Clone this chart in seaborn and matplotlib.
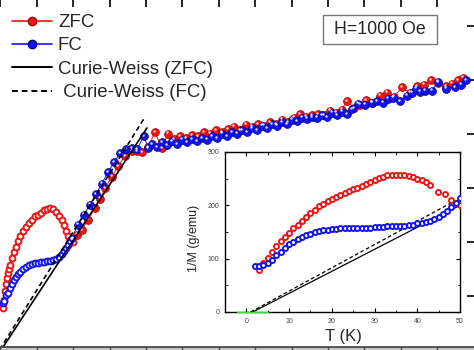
import numpy as np
import pandas as pd
import seaborn as sns
import matplotlib
matplotlib.use('Agg')
import matplotlib.pyplot as plt
from matplotlib.lines import Line2D
from matplotlib.patches import Rectangle
from matplotlib.transforms import offset_copy

# ---- main panel data: 1/M (g/emu) vs T (K) ----
# dense low-temperature part
zfc_low_t = [1.7, 2.4, 3.1, 3.8, 4.5, 5.2, 5.8, 6.5, 7.9, 9.3, 10.6, 12.0, 13.4, 15.5, 17.5, 19.6,
             21.6, 23.7, 25.8, 27.8, 29.9, 31.9, 34.0, 36.1, 38.1, 40.2, 42.2, 43.6, 45.0, 46.4, 47.7, 49.8]
zfc_low_v = [77, 93, 108, 121, 133, 142, 149, 157, 170, 181, 191, 202, 211, 220, 228, 235,
             241, 247, 250, 254, 258, 260, 262, 260, 256, 248, 241, 232, 220, 211, 204, 200]
fc_low_t = [1.7, 2.4, 3.8, 5.2, 6.5, 7.9, 9.3, 10.6, 12.0, 13.4, 15.5, 17.5, 19.6, 21.6, 23.7,
            25.8, 27.8, 29.9, 31.9, 34.0, 36.1, 38.1, 40.2, 42.2, 43.6, 45.0, 46.4, 47.7, 49.1]
fc_low_v = [86, 90, 101, 106, 114, 121, 129, 134, 140, 144, 149, 153, 157, 159, 161,
            161, 163, 163, 164, 164, 166, 168, 172, 177, 183, 189, 194, 202, 207]

# sparser high-temperature part
zfc_t = [52.5, 56.0, 60.1, 64.9, 68.3, 71.8, 76.6, 80.7, 85.5, 90.3, 93.8, 97.2, 101.3, 106.1, 110.9,
         115.0, 119.2, 123.3, 127.4, 131.5, 135.6, 139.8, 143.9, 148.0, 152.1, 156.3, 160.4, 164.5,
         168.6, 172.7, 176.9, 181.0, 185.1, 189.2, 193.3, 197.5, 201.6, 205.7, 209.8, 213.9, 218.1,
         222.2, 226.3, 230.4, 234.5, 238.0, 242.8, 246.9, 251.0, 255.1, 260.6, 265.5, 270.3, 275.8,
         281.3, 286.1, 290.9, 295.7, 300.5, 306.0, 310.1, 314.2, 317.7]
zfc_v = [213, 222, 241, 262, 280, 299, 321, 340, 359, 368, 368, 366, 375, 403, 374,
         400, 390, 396, 392, 398, 396, 403, 400, 407, 403, 409, 413, 407,
         417, 413, 418, 415, 422, 418, 426, 422, 430, 437, 432, 435, 437,
         435, 443, 439, 445, 461, 448, 454, 463, 458, 471, 476, 469, 486,
         476, 488, 491, 499, 495, 488, 493, 499, 504]
fc_t = [53.2, 57.3, 61.5, 65.6, 69.7, 73.8, 78.0, 82.1, 86.2, 90.3, 93.8, 98.6, 101.3, 104.1, 107.5,
        110.9, 114.4, 117.8, 121.2, 124.7, 128.1, 131.5, 135.0, 138.4, 141.8, 145.3, 148.7, 152.1,
        155.6, 159.0, 162.4, 165.9, 169.3, 172.7, 176.2, 179.6, 183.0, 186.5, 189.9, 193.3, 196.8,
        200.2, 203.6, 207.1, 210.5, 213.9, 217.4, 220.8, 224.2, 227.7, 231.1, 234.5, 238.0, 241.4,
        245.5, 250.3, 255.1, 258.6, 262.7, 266.1, 269.6, 274.4, 279.2, 282.6, 285.4, 288.1, 291.6,
        296.4, 300.5, 306.0, 312.2, 316.4, 319.7]
fc_v = [232, 250, 269, 288, 308, 329, 347, 364, 372, 374, 372, 396, 374, 381, 375,
        385, 379, 387, 381, 389, 385, 390, 387, 392, 389, 396, 392, 400,
        396, 403, 400, 407, 403, 411, 407, 415, 411, 418, 415, 422, 418,
        426, 424, 430, 428, 431, 430, 435, 431, 439, 435, 441, 437, 446,
        456, 454, 458, 461, 458, 465, 467, 461, 471, 476, 484, 478, 480,
        480, 497, 484, 486, 491, 499]

# Curie-Weiss fits (end points)
cw_zfc_t, cw_zfc_v = [0.6, 100.6], [0, 411]
cw_fc_t, cw_fc_v = [-0.6, 99.2], [0, 431]

# ---- inset data ----
in_zfc_t = [3, 4, 5, 6, 7, 8, 9, 10, 11, 12, 13, 14, 15, 16, 17, 18, 19, 20, 21, 22, 23, 24, 25,
            26, 27, 28, 29, 30, 31, 32, 33, 34, 35, 36, 37, 38, 39, 40, 41, 42, 43, 44.9, 46.4, 48, 49.2, 50]
in_zfc_v = [78, 91, 102, 113, 123, 133, 141, 149, 157, 164, 171, 179, 186, 192, 198, 203, 208, 211,
            216, 219, 224, 227, 230, 233, 236, 240, 244, 248, 251, 254, 256, 257, 257, 257, 256, 255,
            253, 250, 247, 243, 239, 225, 222, 210, 205, 200]
in_fc_t = [2, 3, 4, 5, 6, 7, 8, 9, 10, 11, 12, 13, 14, 15, 16, 17, 18, 19, 20, 21, 22, 23, 24, 25,
           26, 27, 28, 29, 30, 31, 32, 33, 34, 35, 36, 37, 38, 39, 40, 41, 42, 43, 44, 45, 46, 47, 48, 49, 50]
in_fc_v = [86, 87, 89, 92, 98, 106, 113, 120, 127, 132, 136, 140, 144, 147, 150, 152, 153, 154, 155,
           156, 157, 157, 157, 157, 157, 158, 158, 158, 159, 160, 160, 161, 161, 161, 162, 162, 163,
           164, 166, 167, 169, 171, 174, 178, 183, 190, 197, 205, 213]
in_cw_zfc_t, in_cw_zfc_v = [1.5, 50], [0, 200]
in_cw_fc_t, in_cw_fc_v = [1.0, 48], [0, 205]
in_base_t, in_base_v = [-2.3, 5], [0, 0]

RED, RED_E = '#f01414', '#a00000'
BLUE, BLUE_E = '#1414f0', '#00008c'

sns.set_theme(style='ticks')
plt.rcParams['font.family'] = ['Liberation Sans', 'DejaVu Sans']

fig = plt.figure(figsize=(4.74, 3.5), dpi=100)
W, H = 474, 350

# main axes extends past the figure edges (cropped figure)
ax = fig.add_axes([-14.1 / W, 3 / H, 490.7 / W, 348 / H])
ax.set_xlim(-10, 327)
ax.set_ylim(5, 650)


def balls(t, v, color, edge):
    sns.scatterplot(x=t, y=v, ax=ax, color=color, s=32, edgecolor=edge, linewidth=0.5,
                    zorder=3, legend=False)
    hl = offset_copy(ax.transData, fig=fig, x=-1.0, y=1.0, units='points')
    ax.scatter(t, v, s=3, color='white', alpha=0.85, linewidths=0, transform=hl, zorder=4)


for lt, lv, t, v, c, e in [(zfc_low_t, zfc_low_v, zfc_t, zfc_v, RED, RED_E),
                           (fc_low_t, fc_low_v, fc_t, fc_v, BLUE, BLUE_E)]:
    ax.plot(lt + t, lv + v, color=c, lw=0.7, zorder=2)
    sns.scatterplot(x=lt, y=lv, ax=ax, s=18, facecolor='#ffffff', edgecolor=c, linewidth=1.4,
                    zorder=3, legend=False)
    balls(t, v, c, e)

ax.plot(cw_zfc_t, cw_zfc_v, color='black', lw=1.2, zorder=5)
ax.plot(cw_fc_t, cw_fc_v, color='black', lw=1.2, ls=(0, (3, 2)), zorder=5)

ax.set_xticks(np.arange(0, 301, 25))
ax.set_yticks([100, 200, 300, 400, 500, 600])
ax.tick_params(axis='x', direction='in', top=True, bottom=False, length=6, width=1.2,
               color='black', labeltop=False, labelbottom=False)
ax.tick_params(axis='y', direction='in', right=True, left=False, length=7, width=1.2,
               color='black', labelleft=False, labelright=False)
for s in ax.spines.values():
    s.set_visible(False)
ax.set_xlabel('')
ax.set_ylabel('')

# grey strip at the bottom edge (next panel)
band = fig.add_axes([-14.1 / W, 0, 490.7 / W, 3 / H])
band.set_xlim(-10, 327)
band.set_facecolor('#c4c4c4')
for k, s in band.spines.items():
    s.set_visible(k == 'top')
band.spines['top'].set_color('#444444')
band.set_xticks(np.arange(0, 301, 25))
band.set_yticks([])
band.tick_params(axis='x', direction='in', top=True, bottom=False, length=4, width=1,
                 color='#444444', labelbottom=False)

handles = [
    Line2D([], [], color=RED, marker='o', markersize=6, markeredgecolor=RED_E, lw=1.2),
    Line2D([], [], color=BLUE, marker='o', markersize=6, markeredgecolor=BLUE_E, lw=1.2),
    Line2D([], [], color='black', lw=1.4),
    Line2D([], [], color='black', lw=1.4, ls=(0, (3, 2))),
]
labels = ['ZFC', 'FC', 'Curie-Weiss (ZFC)', ' Curie-Weiss (FC)']
fig.legend(handles, labels, loc='upper left', bbox_to_anchor=(12 / W, 1 - 14 / H),
           frameon=False, fontsize=13.4, handlelength=2.15, handletextpad=0.32,
           labelspacing=0.34, borderpad=0, borderaxespad=0)

fig.add_artist(Rectangle((323 / W, 1 - 44 / H), 114 / W, 29 / H, transform=fig.transFigure,
                         fill=False, edgecolor='#777777', lw=1.0))
fig.text(380 / W, 1 - 29.5 / H, 'H=1000 Oe', ha='center', va='center', fontsize=12.8)

# ---- inset ----
axi = fig.add_axes([225 / W, 38 / H, 235 / W, 160 / H])
axi.set_facecolor('white')
axi.plot(in_cw_zfc_t, in_cw_zfc_v, color='black', lw=0.9, zorder=2)
axi.plot(in_cw_fc_t, in_cw_fc_v, color='black', lw=0.9, ls=(0, (3, 2)), zorder=2)
sns.scatterplot(x=in_zfc_t, y=in_zfc_v, ax=axi, s=13, facecolor='white', edgecolor=RED,
                linewidth=1.4, zorder=3, legend=False)
sns.scatterplot(x=in_fc_t, y=in_fc_v, ax=axi, s=13, facecolor='white', edgecolor=BLUE,
                linewidth=1.4, zorder=3, legend=False)
axi.plot(in_base_t, in_base_v, color='#44d444', lw=1.0, zorder=4, clip_on=False)
axi.set_xlim(-5, 50)
axi.set_ylim(0, 300)
axi.set_xticks(np.arange(0, 51, 10))
axi.set_xticks(np.arange(-5, 51, 5), minor=True)
axi.set_yticks([0, 100, 200, 300])
axi.set_yticks(np.arange(0, 301, 50), minor=True)
axi.tick_params(which='both', direction='in', top=True, right=True, color='black',
                labelsize=5, labelcolor='#444444', pad=4)
axi.tick_params(which='major', length=3, width=0.8)
axi.tick_params(which='minor', length=1.8, width=0.6)
for s in axi.spines.values():
    s.set_color('black')
    s.set_linewidth(1.0)
axi.set_xlabel('T (K)', fontsize=12)
axi.set_ylabel('1/M (g/emu)', fontsize=9)
axi.xaxis.set_label_coords(0.502, -0.105)
axi.yaxis.set_label_coords(-0.105, 0.46)

fig.savefig('out.png', dpi=100)
